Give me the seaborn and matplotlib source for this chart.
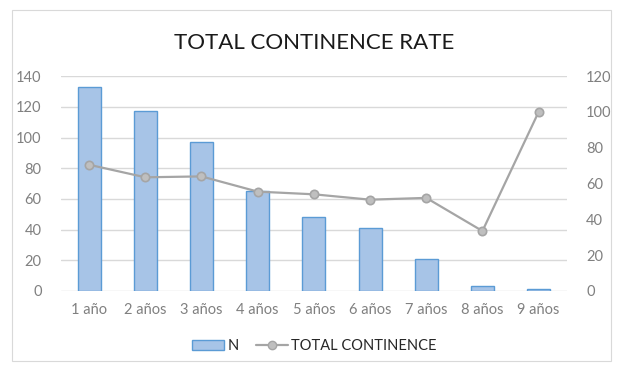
import pandas as pd
import matplotlib
matplotlib.use('Agg')
import matplotlib.pyplot as plt
import seaborn as sns
from matplotlib.patches import Patch, Rectangle
from matplotlib.lines import Line2D

# data
ages = ['1 año', '2 años', '3 años', '4 años', '5 años', '6 años', '7 años', '8 años', '9 años']
n_values = [133, 117, 97, 65, 48, 41, 21, 3, 1]
continence = [70.5, 63.5, 64, 55.5, 54, 51, 52, 33.5, 100]

df = pd.DataFrame({'age': ages, 'N': n_values, 'rate': continence})

sns.set_theme(style='white')
plt.rcParams['font.family'] = ['Lato', 'DejaVu Sans']

BAR = '#a7c4e7'
EDGE = '#5b9bd5'
LINE = '#a5a5a5'
TICK = '#808080'

fig = plt.figure(figsize=(6.29, 3.75), dpi=100)
ax = fig.add_axes([0.097, 0.224, 0.804, 0.573])

sns.barplot(data=df, x='age', y='N', ax=ax, color=BAR, edgecolor=EDGE,
            linewidth=1, width=0.41, saturation=1)
ax.set_ylim(0, 140)
ax.set_yticks(range(0, 141, 20))
ax.yaxis.grid(True, color='#d9d9d9', linewidth=1)
ax.set_axisbelow(True)

ax2 = ax.twinx()
sns.pointplot(data=df, x='age', y='rate', ax=ax2, color=LINE, markers='o',
              markersize=6, linewidth=1.6,
              markerfacecolor='#bfbfbf', markeredgecolor=LINE)
ax2.set_ylim(0, 120)
ax2.set_yticks(range(0, 121, 20))
ax.set_xlim(-0.5, len(ages) - 0.5)

for a in (ax, ax2):
    a.set_xlabel('')
    a.set_ylabel('')
    for s in a.spines.values():
        s.set_visible(False)
    a.tick_params(axis='both', length=0, labelsize=10.5, colors=TICK, pad=9)
ax.tick_params(axis='y', pad=14)
ax2.tick_params(axis='y', pad=14)

fig.text(0.5, 0.885, 'TOTAL CONTINENCE RATE', ha='center', va='center',
         fontsize=16, color='#1a1a1a')

handles = [Patch(facecolor=BAR, edgecolor=EDGE, label='N'),
           Line2D([0], [0], color=LINE, lw=1.6, marker='o', markersize=6,
                  markerfacecolor='#bfbfbf', markeredgecolor=LINE,
                  label='TOTAL CONTINENCE')]
fig.legend(handles=handles, loc='center', bbox_to_anchor=(0.5, 0.077), ncol=2,
           frameon=False, fontsize=10.5, handlelength=2.2, columnspacing=1.2,
           handletextpad=0.2)

fig.patches.append(Rectangle((0.019, 0.037), 0.953, 0.937, transform=fig.transFigure,
                             fill=False, edgecolor='#d9d9d9', linewidth=0.8))

fig.savefig('out.png', dpi=100, facecolor='white')
